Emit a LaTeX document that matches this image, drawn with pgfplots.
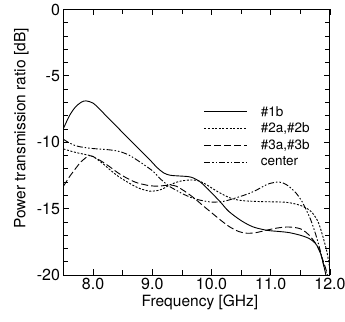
\documentclass[border=0pt]{standalone}
\usepackage{pgfplots}
\pgfplotsset{compat=1.18}
\usepackage{fontspec}
\setmainfont{TeX Gyre Heros}
\begin{document}
\begin{tikzpicture}
\useasboundingbox (-63.5pt,-45.9pt) rectangle (281.5pt,275.1pt);
\begin{axis}[
  at={(0,0)}, anchor=south west,
  scale only axis, width=266.5pt, height=265.6pt,
  xmin=7.5, xmax=12, ymin=-20, ymax=0,
  xtick={8,9,10,11,12}, ytick={-20,-15,-10,-5,0},
  minor x tick num=1, minor y tick num=4,
  tick align=inside, ticks=both,
  major tick length=6pt, minor tick length=5pt,
  axis line style={line width=1pt},
  every tick/.style={black, line width=0.8pt},
  tick label style={font=\fontsize{16}{18}\selectfont},
  /pgf/number format/assume math mode=true,
  xticklabel style={/pgf/number format/fixed, /pgf/number format/fixed zerofill, /pgf/number format/precision=1},
  xlabel={Frequency [GHz]},
  ylabel={Power transmission ratio [dB]},
  label style={font=\fontsize{15.5}{18}\selectfont},
  xlabel style={at={(axis description cs:0.512,-0.101)}, anchor=center},
  ylabel style={at={(axis description cs:-0.158,0.552)}, anchor=center, rotate=0},
  legend style={draw=none, fill=none, at={(axis description cs:0.515,0.648)}, anchor=north west,
     font=\fontsize{13.5}{16}\selectfont, row sep=3.5pt, column sep=12pt, nodes={inner sep=1pt}},
  legend cell align=left,
  legend image code/.code={\draw[#1] (0pt,0pt) -- (43pt,0pt);},
  every axis plot/.append style={black, line width=0.9pt, smooth},
]
\addplot[solid] coordinates {
(7.5,-8.95) (7.6,-8.0) (7.7,-7.35) (7.8,-6.98) (7.88,-6.88) (8.0,-7.05) (8.11,-7.5) (8.25,-8.15)
(8.4,-8.82) (8.55,-9.5) (8.68,-10.08) (8.82,-10.7) (8.96,-11.33) (9.08,-11.9) (9.19,-12.3) (9.3,-12.48)
(9.47,-12.54) (9.6,-12.58) (9.69,-12.68) (9.8,-12.95) (9.9,-13.35) (10.0,-13.8) (10.15,-14.5) (10.29,-15.2)
(10.5,-15.9) (10.69,-16.35) (10.85,-16.55) (10.97,-16.65) (11.15,-16.72) (11.31,-16.8) (11.5,-17.0)
(11.65,-17.25) (11.75,-17.6) (11.82,-18.1) (11.88,-19.0) (11.93,-20.0) (11.96,-20.8)};
\addlegendentry{\#1b}
\addplot[dash pattern=on 2pt off 1.6pt] coordinates {
(7.5,-10.5) (7.65,-10.7) (7.77,-10.83) (7.9,-10.95) (8.0,-11.08) (8.15,-11.55) (8.28,-12.05) (8.42,-12.55)
(8.57,-12.97) (8.7,-13.3) (8.8,-13.5) (8.96,-13.68) (9.1,-13.62) (9.2,-13.45) (9.3,-13.2) (9.45,-12.95)
(9.6,-12.85) (9.69,-12.84) (9.78,-12.9) (9.9,-13.15) (10.06,-13.6) (10.2,-13.95) (10.29,-14.15) (10.45,-14.35)
(10.6,-14.42) (10.86,-14.47) (11.2,-14.5) (11.35,-14.58) (11.48,-14.72) (11.6,-14.95) (11.7,-15.3)
(11.8,-16.0) (11.88,-17.1) (11.95,-18.3) (12.0,-19.6)};
\addlegendentry{\#2a,\#2b}
\addplot[dash pattern=on 7pt off 3pt] coordinates {
(7.5,-13.3) (7.6,-12.6) (7.7,-12.0) (7.8,-11.45) (7.94,-11.0) (8.05,-11.2) (8.15,-11.45) (8.28,-11.84)
(8.42,-12.3) (8.57,-12.7) (8.7,-12.98) (8.8,-13.12) (8.96,-13.27) (9.1,-13.3) (9.3,-13.22) (9.4,-13.3)
(9.5,-13.55) (9.6,-13.85) (9.72,-14.25) (9.85,-14.75) (10.0,-15.3) (10.15,-15.85) (10.3,-16.35)
(10.46,-16.72) (10.6,-16.85) (10.75,-16.8) (10.9,-16.65) (11.05,-16.5) (11.2,-16.4) (11.31,-16.38)
(11.45,-16.45) (11.54,-16.6) (11.65,-17.0) (11.77,-17.7) (11.85,-18.5) (11.92,-19.4) (11.96,-20.0) (11.98,-20.5)};
\addlegendentry{\#3a,\#3b}
\addplot[dash pattern=on 6pt off 2pt on 1.5pt off 2pt on 1.5pt off 2pt] coordinates {
(7.5,-9.78) (7.6,-10.05) (7.7,-10.25) (7.77,-10.33) (7.95,-10.45) (8.17,-10.53) (8.3,-10.58) (8.45,-10.7)
(8.6,-10.95) (8.74,-11.33) (8.88,-11.75) (9.02,-12.21) (9.1,-12.6) (9.19,-12.97) (9.3,-13.35) (9.4,-13.6)
(9.5,-13.85) (9.65,-14.15) (9.8,-14.35) (10.0,-14.5) (10.2,-14.45) (10.4,-14.2) (10.64,-13.84) (10.8,-13.5)
(10.95,-13.15) (11.1,-13.0) (11.2,-13.05) (11.3,-13.3) (11.43,-13.84) (11.52,-14.4) (11.6,-15.1)
(11.68,-15.9) (11.77,-17.1) (11.85,-18.4) (11.9,-19.4) (11.95,-20.0) (11.97,-20.5)};
\addlegendentry{center}
\end{axis}
\end{tikzpicture}
\end{document}
